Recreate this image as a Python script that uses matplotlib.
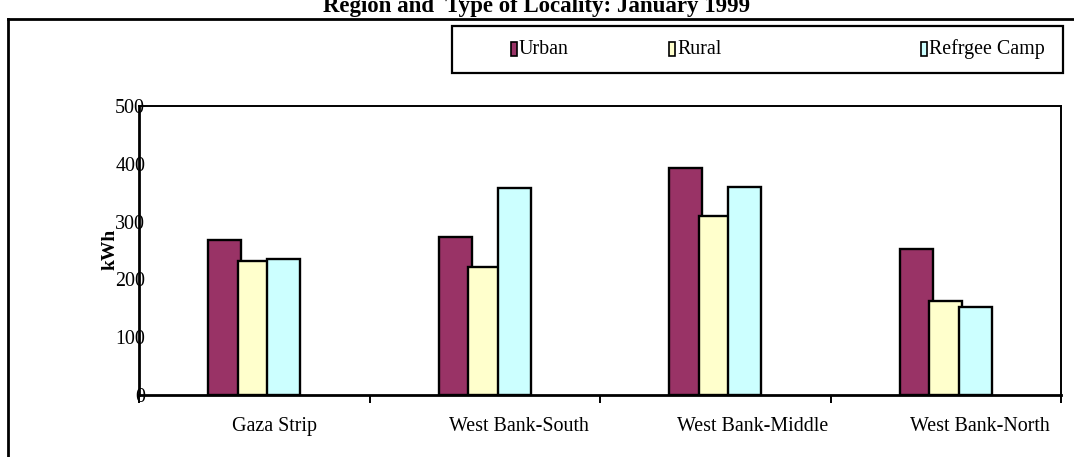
import matplotlib
matplotlib.use("Agg")
import matplotlib.pyplot as plt
import matplotlib.transforms as mtransforms
import numpy as np
from matplotlib.patches import Rectangle
from matplotlib.lines import Line2D

regions = ["Gaza Strip", "West Bank-South", "West Bank-Middle", "West Bank-North"]
series_names = ["Urban", "Rural", "Refrgee Camp"]
urban = [268, 274, 393, 253]
rural = [231, 221, 310, 162]
refugee_camp = [235, 358, 360, 152]
colors = ["#993366", "#FFFFCC", "#CCFFFF"]
y_ticks = [0, 100, 200, 300, 400, 500]
title = "Region and  Type of Locality: January 1999"

plt.rcParams["font.family"] = ["Liberation Serif", "DejaVu Serif"]

W, H = 1074, 457
fig = plt.figure(figsize=(W / 100, H / 100), dpi=100)


def fx(px):
    return px / W


def fy(py):
    return 1 - py / H


ax = fig.add_axes([fx(139), fy(395), fx(1061) - fx(139), fy(106) - fy(395)])

x = np.arange(len(regions))
step = 0.128
width = 0.143
for i, (vals, col) in enumerate(zip([urban, rural, refugee_camp], colors)):
    ax.bar(x + (i - 1) * step, vals, width=width, color=col,
           edgecolor="black", linewidth=1.7, zorder=2 + i)

ax.set_xlim(-0.5, len(regions) - 0.5)
ax.set_ylim(0, 500)
ax.set_yticks(y_ticks)
ax.set_yticklabels([str(v) for v in y_ticks], fontsize=14.4)
ax.tick_params(axis="y", length=0, pad=-4.5)

ax.set_xticks(x)
ax.set_xticklabels(regions, fontsize=14.4)
ax.set_xticks(np.arange(len(regions) + 1) - 0.5, minor=True)
ax.tick_params(axis="x", which="major", length=0, pad=16)
ax.tick_params(axis="x", which="minor", length=6, width=1.4, direction="out")

# category labels sit a little right of their group centres
label_shift_px = [20, 34, 37, 34]
for lbl, dx in zip(ax.get_xticklabels(), label_shift_px):
    lbl.set_transform(lbl.get_transform() +
                      mtransforms.ScaledTranslation(dx / 100, 0, fig.dpi_scale_trans))

for s in ["left", "bottom"]:
    ax.spines[s].set_linewidth(2.0)
for s in ["top", "right"]:
    ax.spines[s].set_linewidth(1.4)
for lbl in ax.get_yticklabels():
    lbl.set_zorder(1)

fig.text(fx(110), fy(249), "kWh", rotation=90, ha="center", va="center",
         fontsize=14, fontweight="bold")

# chart title (partly above the canvas edge)
fig.text(0.5, fy(12), title, ha="center", va="baseline",
         fontsize=16.5, fontweight="bold")

# outer chart-area border
fig.add_artist(Line2D([fx(8), fx(8)], [fy(19), fy(H + 5)], color="black", lw=2.0))
fig.add_artist(Line2D([fx(8), fx(W + 5)], [fy(19), fy(19)], color="black", lw=2.0))

# legend box
fig.add_artist(Rectangle((fx(452), fy(73)), fx(1063) - fx(452), fy(26) - fy(73),
                         facecolor="white", edgecolor="black", lw=1.6))
legend_x = [511, 669, 921]
for name, col, lx in zip(series_names, colors, legend_x):
    fig.add_artist(Rectangle((fx(lx), fy(56)), fx(6), fy(42) - fy(56),
                             facecolor=col, edgecolor="black", lw=1.2))
    fig.text(fx(lx + 8), fy(49), name, ha="left", va="center", fontsize=14.4)

fig.savefig("out.png", dpi=100, facecolor="white")
